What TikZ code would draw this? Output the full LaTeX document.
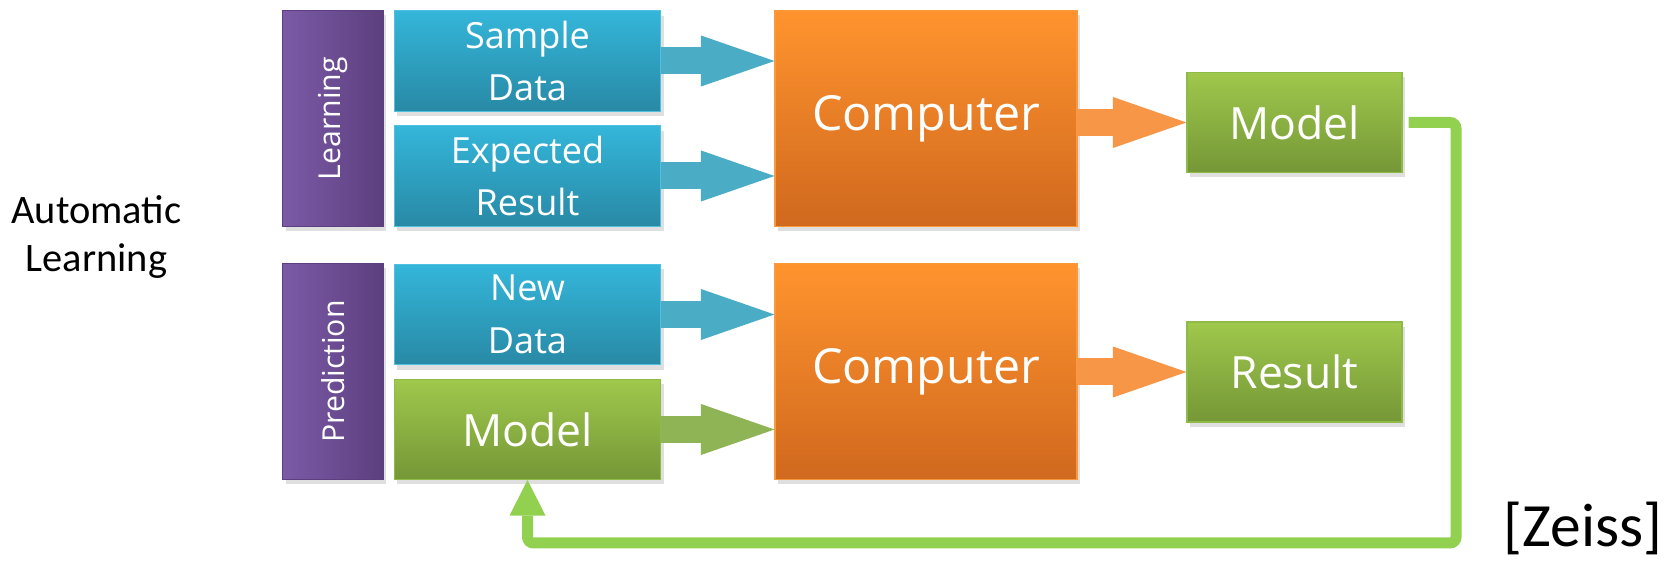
\documentclass[tikz,border=0pt]{standalone}
\usepackage{fontspec}
\setmainfont{Open Sans}
\newfontfamily\carlito{Carlito}
\usetikzlibrary{arrows.meta,shadows}

\definecolor{bluetop}{RGB}{52,182,218}
\definecolor{bluebot}{RGB}{40,137,165}
\definecolor{blueline}{RGB}{80,192,224}
\definecolor{purpleleft}{RGB}{124,90,167}
\definecolor{purpleright}{RGB}{92,63,126}
\definecolor{orangetop}{RGB}{255,148,46}
\definecolor{orangebot}{RGB}{208,104,30}
\definecolor{orangeline}{RGB}{250,152,62}
\definecolor{greentop}{RGB}{159,200,76}
\definecolor{greenbot}{RGB}{117,151,55}
\definecolor{greenline}{RGB}{142,186,72}
\definecolor{bluearrow}{RGB}{75,172,198}
\definecolor{orangearrow}{RGB}{247,150,70}
\definecolor{greenarrow}{RGB}{143,180,85}
\definecolor{feedback}{RGB}{146,208,80}

\tikzset{
    box/.style={draw,line width=0.6pt,inner sep=0pt,text=white,align=center,
        drop shadow={opacity=0.25,shadow xshift=0.06cm,shadow yshift=-0.1cm}},
    phase/.style={box,draw=purpleright,left color=purpleleft,right color=purpleright,
        minimum width=2.01cm,minimum height=4.32cm,font=\fontsize{17.2}{21}\selectfont},
    inbox/.style={box,draw=blueline,top color=bluetop,bottom color=bluebot,
        minimum width=5.33cm,minimum height=2.01cm,font=\fontsize{20.5}{30}\selectfont},
    greenbox/.style={box,draw=greenline,top color=greentop,bottom color=greenbot,
        minimum height=2.0cm,font=\fontsize{25.3}{29}\selectfont},
    computer/.style={box,draw=orangeline,top color=orangetop,bottom color=orangebot,
        minimum width=6.04cm,minimum height=4.32cm,font=\fontsize{27.5}{32}\selectfont},
    fat/.style={line width=0.54cm,-{Triangle[width=1.02cm,length=1.47cm,line width=0pt]}},
}

\begin{document}
\begin{tikzpicture}
    \useasboundingbox (0,0) rectangle (33.48,11.26);
    \node[align=center,font=\carlito\fontsize{23}{27.5}\selectfont] (auto) at (1.93,6.52) {Automatic\\Learning};
    % learning row
    \node[phase] (learn) at (6.66,8.89) {\rotatebox{90}{Learning}};
    \node[inbox] (sample) at (10.55,10.04) {Sample\\Data};
    \node[inbox] (expected) at (10.55,7.74) {Expected\\Result};
    \node[computer] (comp1) at (18.52,8.89) {Computer};
    \node[greenbox,minimum width=4.3cm] (modelout) at (25.89,8.81) {Model};
    % prediction row
    \node[phase] (pred) at (6.66,3.83) {\rotatebox{90}{Prediction}};
    \node[inbox] (newdata) at (10.55,4.97) {New\\Data};
    \node[greenbox,minimum width=5.33cm] (modelin) at (10.55,2.67) {Model};
    \node[computer] (comp2) at (18.52,3.83) {Computer};
    \node[greenbox,minimum width=4.3cm] (result) at (25.89,3.82) {Result};
    \node[anchor=base,font=\carlito\fontsize{35}{40}\selectfont] (zeiss) at (31.66,0.32) {[Zeiss]};
    % arrows
    \draw[fat,bluearrow] (sample.east) -- (sample.east -| comp1.west);
    \draw[fat,bluearrow] (expected.east) -- (expected.east -| comp1.west);
    \draw[fat,bluearrow] (newdata.east) -- (newdata.east -| comp2.west);
    \draw[fat,greenarrow] (modelin.east) -- (modelin.east -| comp2.west);
    \draw[fat,orangearrow] (comp1.east |- modelout.west) -- (modelout.west);
    \draw[fat,orangearrow] (comp2.east |- result.west) -- (result.west);
    % feedback
    \coordinate (fb) at (29.12,0.4);
    \draw[feedback,line width=0.22cm,rounded corners=0.12cm,shorten <=0.12cm,
        -{Triangle[width=0.72cm,length=0.71cm,line width=0pt]}] (modelout.east) -| (fb) -| (modelin.south);
\end{tikzpicture}
\end{document}
